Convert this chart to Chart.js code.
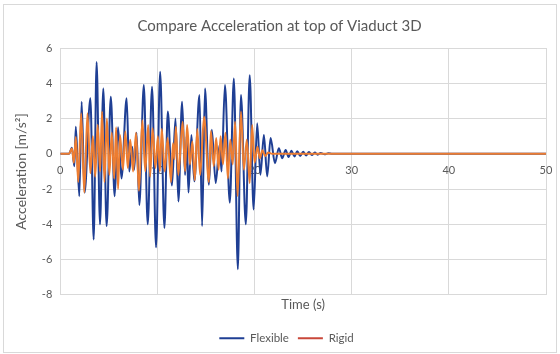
<!DOCTYPE html>
<html>
<head>
<meta charset="utf-8">
<title>Compare Acceleration at top of Viaduct 3D</title>
<script src="https://cdn.jsdelivr.net/npm/chart.js@4.4.1/dist/chart.umd.min.js"></script>
<style>
  html, body { margin: 0; padding: 0; background: #ffffff; }
  #wrap { position: relative; width: 560px; height: 354px; }
</style>
</head>
<body>
<div id="wrap"><canvas id="chart" width="560" height="354"></canvas></div>
<script>
// Peaks and troughs of the acceleration response (time in s, acceleration in m/s²)
const flexibleTime = [0, 0.9, 1.2, 1.45, 1.6, 1.96, 2.2, 2.5, 3.1, 3.44, 3.74, 4.09, 4.43, 4.77, 5.2, 5.6,
  5.95, 6.3, 6.83, 7.1, 7.4, 7.6, 7.85, 8.14, 8.6, 9.0, 9.45, 9.86, 10.28, 10.72, 11.07, 11.5, 11.86,
  12.16, 12.54, 12.85, 13.0, 13.2, 13.5, 13.8, 14.33, 14.6, 14.9, 15.3, 15.6, 16.0, 16.4, 16.6, 16.95,
  17.45, 17.87, 18.28, 18.6, 19.1, 19.5, 19.9, 20.27, 20.6, 20.96, 21.3, 21.65, 22.1, 22.5, 22.85, 23.2,
  23.5, 23.8, 24.1, 24.4, 24.7, 25.0, 25.3, 25.6, 25.9, 26.2, 26.5, 26.8, 27.2, 27.6, 28.0, 50];
const flexibleAccel = [0, 0, 0.35, -0.7, 1.54, -2.4, 2.95, -2.2, 3.15, -4.86, 5.2, -4.0, 3.7, -4.1, 3.24, -2.4,
  1.5, -1.4, 3.15, -1.0, 0.4, -0.9, 1.2, -2.9, 3.9, -4.0, 3.8, -5.3, 4.65, -4.2, 2.4, -1.8, 2.0,
  -2.7, 2.95, -1.2, 1.0, -2.2, 1.07, -1.56, 3.33, -4.1, 3.7, -1.75, 1.36, -1.66, 0.5, -1.0, 3.9,
  -2.77, 4.27, -6.55, 3.33, -4.0, 4.46, -3.16, 1.73, -1.19, 1.07, -1.28, 0.89, -0.53, 0.32, -0.25, 0.22,
  -0.18, 0.18, -0.15, 0.15, -0.12, 0.12, -0.1, 0.1, -0.07, 0.07, -0.05, 0.05, -0.03, 0.03, 0, 0];

const rigidTime = [0, 0.9, 1.2, 1.4, 1.6, 1.85, 2.15, 2.47, 2.8, 3.1, 3.35, 3.6, 3.85, 4.1, 4.3, 4.55,
  4.8, 5.05, 5.3, 5.55, 5.75, 5.95, 6.15, 6.45, 6.7, 6.95, 7.2, 7.5, 7.8, 8.1, 8.45, 8.75, 9.05, 9.25,
  9.5, 9.8, 10.05, 10.25, 10.45, 10.75, 11.05, 11.4, 11.6, 11.75, 11.9, 12.15, 12.6, 12.85, 13.05, 13.35,
  13.6, 13.85, 14.1, 14.4, 14.8, 15.3, 15.5, 15.8, 16.05, 16.3, 16.5, 16.75, 17.0, 17.25, 17.5, 17.75,
  18.0, 18.25, 18.6, 18.9, 19.2, 19.5, 19.75, 20.0, 20.3, 20.55, 20.8, 21.1, 21.4, 21.8, 50];
const rigidAccel = [0, 0, 0.3, -0.5, 0.95, -1.6, 2.3, -2.2, 2.3, -1.1, 1.0, -1.3, 1.65, -1.0, 2.4, -1.6,
  2.0, -1.2, 1.2, -1.4, 1.5, -2.0, 1.07, -0.9, 1.26, -0.8, 0.8, -1.0, 1.2, -2.1, 1.9, -1.0, 1.64, -1.3,
  1.45, -0.8, 1.0, -1.0, 1.4, -1.0, 0.9, -1.6, 0.6, -0.3, 1.54, -1.2, 1.82, -1.0, 1.64, -0.6,
  0.7, -1.5, 1.4, -1.2, 2.1, -1.6, 1.3, -0.7, 0.9, -0.9, 1.0, -0.6, 1.2, -1.4, 0.8, -0.6,
  1.82, -2.4, 2.4, -0.9, 0.8, -1.66, 1.64, -0.5, 0.4, -0.25, 0.2, -0.12, 0.08, 0, 0];

const xTicks = [0, 10, 20, 30, 40, 50];
const yTicks = [-8, -6, -4, -2, 0, 2, 4, 6];

const flexibleColor = '#1f3f94';
const rigidColor = '#ed7d31';
const rigidLegendColor = '#c9473a';
const textColor = '#595959';
const gridColor = '#d9d9d9';
const fontFamily = 'Lato, "Open Sans", sans-serif';

const toPoints = (t, a) => t.map((v, i) => ({ x: v, y: a[i] }));

// Light frame round the whole chart
const framePlugin = {
  id: 'frame',
  beforeDraw(chart) {
    const ctx = chart.ctx;
    ctx.save();
    ctx.fillStyle = '#ffffff';
    ctx.fillRect(0, 0, chart.width, chart.height);
    ctx.strokeStyle = '#d9d9d9';
    ctx.lineWidth = 1;
    ctx.strokeRect(3.5, 4.5, 553, 348);
    ctx.restore();
  }
};

// Centre the legend under the plot area rather than the whole canvas
const legendShiftPlugin = {
  id: 'legendShift',
  afterLayout(chart) {
    const lg = chart.legend;
    if (!lg) return;
    const shift = 7;
    lg.left += shift;
    lg.right += shift;
  }
};

new Chart(document.getElementById('chart'), {
  type: 'line',
  data: {
    datasets: [
      {
        label: 'Rigid',
        data: toPoints(rigidTime, rigidAccel),
        borderColor: rigidColor,
        borderWidth: 2,
        pointRadius: 0,
        cubicInterpolationMode: 'monotone',
        fill: false
      },
      {
        label: 'Flexible',
        data: toPoints(flexibleTime, flexibleAccel),
        borderColor: flexibleColor,
        borderWidth: 2,
        pointRadius: 0,
        cubicInterpolationMode: 'monotone',
        fill: false
      }
    ]
  },
  options: {
    responsive: false,
    animation: false,
    layout: { padding: { left: 13, right: 14, top: 11, bottom: 0 } },
    plugins: {
      title: {
        display: true,
        text: 'Compare Acceleration at top of Viaduct 3D',
        color: textColor,
        font: { family: fontFamily, size: 15, weight: 'normal' },
        padding: { top: 6, bottom: 13 }
      },
      legend: {
        position: 'bottom',
        labels: {
          color: textColor,
          font: { family: fontFamily, size: 11.5 },
          usePointStyle: true,
          pointStyleWidth: 25,
          padding: 9,
          generateLabels() {
            return [
              { text: 'Flexible', strokeStyle: flexibleColor, fillStyle: flexibleColor, lineWidth: 2,
                pointStyle: 'line', datasetIndex: 1, fontColor: textColor },
              { text: 'Rigid', strokeStyle: rigidLegendColor, fillStyle: rigidLegendColor, lineWidth: 2,
                pointStyle: 'line', datasetIndex: 0, fontColor: textColor }
            ];
          }
        }
      },
      tooltip: { enabled: false }
    },
    scales: {
      x: {
        type: 'linear',
        min: 0,
        max: 50,
        afterBuildTicks(scale) { scale.ticks = xTicks.map(v => ({ value: v })); },
        ticks: { display: false },
        grid: { color: gridColor, drawTicks: false },
        border: { color: gridColor },
        title: {
          display: true,
          text: 'Time (s)',
          color: textColor,
          font: { family: fontFamily, size: 13 },
          padding: { top: 2, bottom: 11 }
        }
      },
      xZero: {
        type: 'linear',
        axis: 'x',
        position: { y: 0 },
        min: 0,
        max: 50,
        afterBuildTicks(scale) { scale.ticks = xTicks.map(v => ({ value: v })); },
        ticks: { color: textColor, font: { family: fontFamily, size: 11 }, padding: 2, maxRotation: 0 },
        grid: { display: false },
        border: { display: false }
      },
      y: {
        min: -8,
        max: 6,
        afterBuildTicks(scale) { scale.ticks = yTicks.map(v => ({ value: v })); },
        ticks: { color: textColor, font: { family: fontFamily, size: 11 }, padding: 8 },
        grid: { color: gridColor, drawTicks: false },
        border: { display: false },
        title: {
          display: true,
          text: 'Acceleration [m/s²]',
          color: textColor,
          font: { family: fontFamily, size: 14 },
          padding: { top: 0, bottom: 4 }
        }
      }
    }
  },
  plugins: [framePlugin, legendShiftPlugin]
});
</script>
</body>
</html>
